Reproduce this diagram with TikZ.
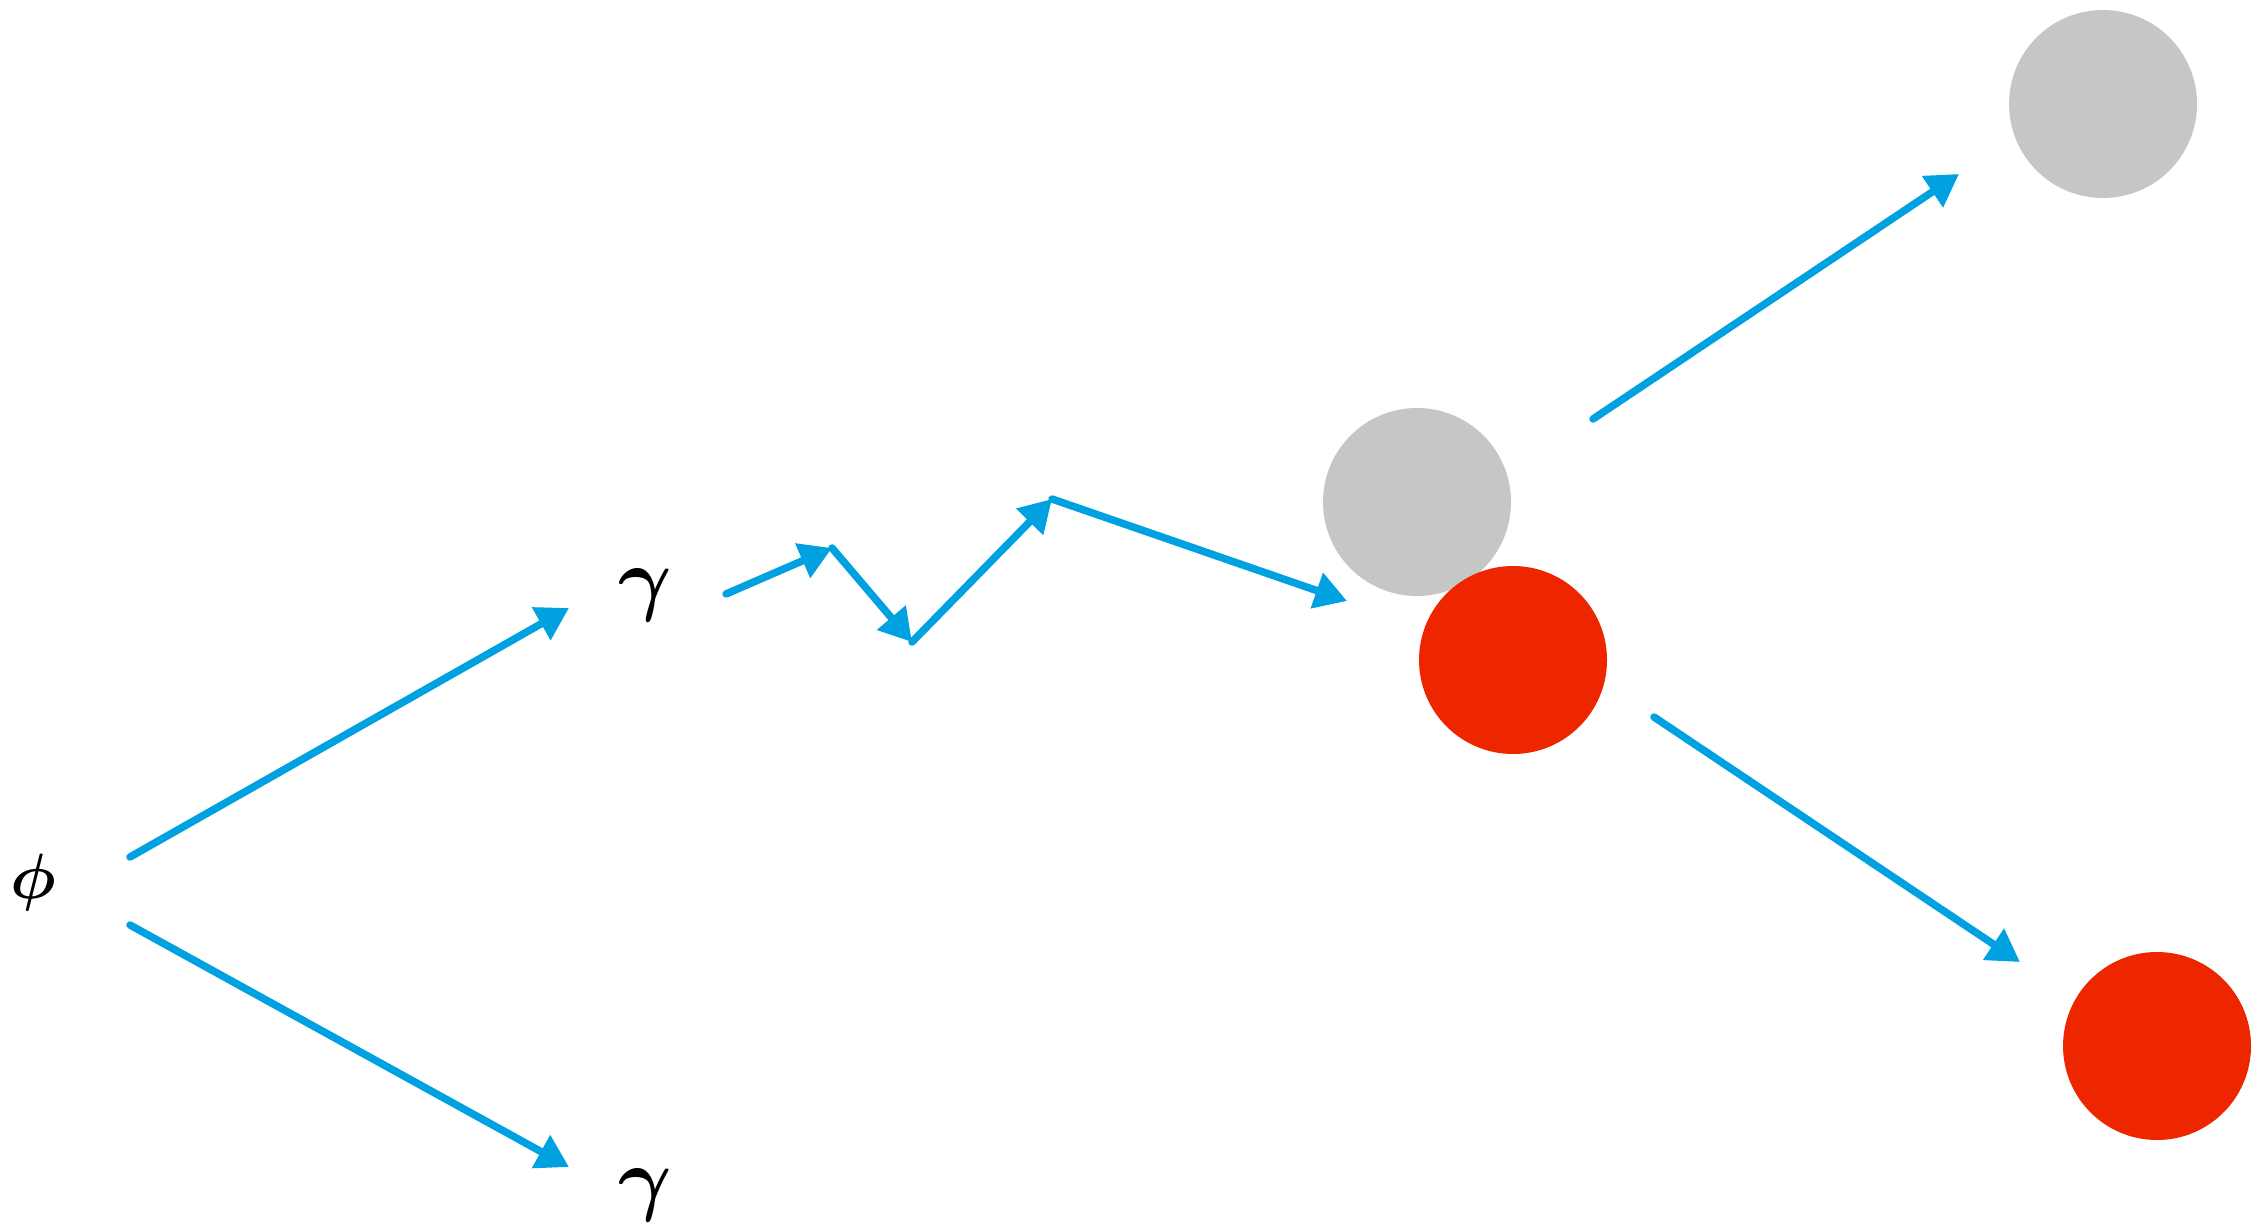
\RequirePackage{fix-cm}
\documentclass[tikz,border=0pt]{standalone}
\usetikzlibrary{arrows.meta}
\definecolor{pblue}{RGB}{0,161,224}
\definecolor{pgray}{RGB}{197,199,196}
\definecolor{pred}{RGB}{238,38,0}
\begin{document}
\begin{tikzpicture}[x=1pt,y=-1pt,
  conn/.style={draw=pblue, line width=7.5pt, line cap=round, -{Triangle[length=32pt,width=36pt]}},
  labphi/.style={inner sep=0pt, font=\fontsize{64}{70}\selectfont\boldmath},
  labgam/.style={inner sep=0pt, font=\fontsize{82}{90}\selectfont\boldmath},
  ball/.style={circle, minimum size=188pt, inner sep=0pt, draw=none}]
\useasboundingbox[fill=white] (0,0) rectangle (2266,1228);

% labels
\node[labphi] (phi) at (33,882) {$\phi$};
\node[labgam] (g1) at (645,595) {$\gamma$};
\node[labgam] (g2) at (645,1195) {$\gamma$};

% balls
\node[ball, fill=pgray] (bg) at (1417,502) {};
\node[ball, fill=pred] (br) at (1513,660) {};
\node[ball, fill=pgray] (bgo) at (2103,104) {};
\node[ball, fill=pred] (bro) at (2157,1046) {};

% connector endpoints
\coordinate (a1s) at (130,857);
\coordinate (a1e) at (569,608);
\coordinate (a2s) at (130,925);
\coordinate (a2e) at (569,1167);
\coordinate (z0) at (726,594);
\coordinate (z1) at (832,548);
\coordinate (z2) at (912,642);
\coordinate (z3) at (1052,499);
\coordinate (z4) at (1347,601);
\coordinate (b1s) at (1593,419);
\coordinate (b1e) at (1959,174);
\coordinate (b2s) at (1654,717);
\coordinate (b2e) at (2020,962);

\draw[conn] (a1s) -- (a1e);
\draw[conn] (a2s) -- (a2e);
\draw[conn] (z0) -- (z1);
\draw[conn] (z1) -- (z2);
\draw[conn] (z2) -- (z3);
\draw[conn] (z3) -- (z4);
\draw[conn] (b1s) -- (b1e);
\draw[conn] (b2s) -- (b2e);
\end{tikzpicture}
\end{document}
